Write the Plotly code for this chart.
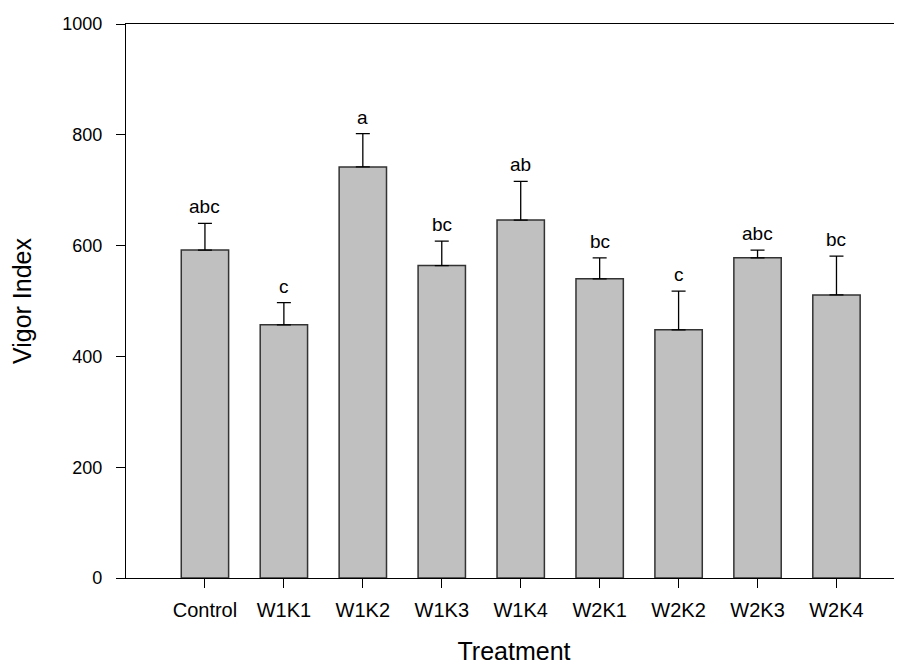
import plotly.graph_objects as go

categories = ["Control", "W1K1", "W1K2", "W1K3", "W1K4", "W2K1", "W2K2", "W2K3", "W2K4"]
means = [592, 457, 742, 564, 646, 540, 448, 578, 511]
errors = [48, 40, 60, 44, 70, 38, 70, 14, 70]
letters = ["abc", "c", "a", "bc", "ab", "bc", "c", "abc", "bc"]

FONT = "Liberation Sans, Arial, sans-serif"

fig = go.Figure()
fig.add_trace(go.Bar(
    x=list(range(len(categories))),
    y=means,
    marker=dict(color="#c0c0c0", line=dict(color="#333333", width=1.5)),
    error_y=dict(type="data", array=errors, arrayminus=[0] * len(errors),
                 symmetric=False, color="#000000", thickness=1.3, width=7),
    width=0.6,
    showlegend=False,
))

for i, (m, e, t) in enumerate(zip(means, errors, letters)):
    fig.add_annotation(x=i, y=m + e, text=t, showarrow=False,
                       yanchor="bottom", yshift=4,
                       font=dict(family=FONT, size=19, color="#000000"))

fig.update_layout(
    width=894, height=657,
    margin=dict(l=118, r=0, t=16, b=87),
    plot_bgcolor="white", paper_bgcolor="white",
    font=dict(family=FONT, size=18, color="#000000"),
    bargap=0.4,
    xaxis=dict(
        tickmode="array", tickvals=list(range(len(categories))), ticktext=categories,
        range=[-1.0, 8.83], showgrid=False, zeroline=False,
        showline=True, linecolor="#000000", linewidth=1.3, mirror=True,
        ticks="outside", ticklen=9, tickcolor="#000000", tickwidth=1,
        ticklabelstandoff=5,
        tickfont=dict(family=FONT, size=20),
        title=dict(text="Treatment", font=dict(family=FONT, size=25), standoff=24),
    ),
    yaxis=dict(
        range=[0, 1000], tickvals=[0, 200, 400, 600, 800, 1000],
        showgrid=False, zeroline=False,
        showline=True, linecolor="#000000", linewidth=1.3,
        ticks="outside", ticklen=9, tickcolor="#000000", tickwidth=1,
        ticklabelstandoff=10,
        tickfont=dict(family=FONT, size=18),
        title=dict(text="Vigor Index", font=dict(family=FONT, size=25), standoff=26),
    ),
)

fig.write_html("out.html")
